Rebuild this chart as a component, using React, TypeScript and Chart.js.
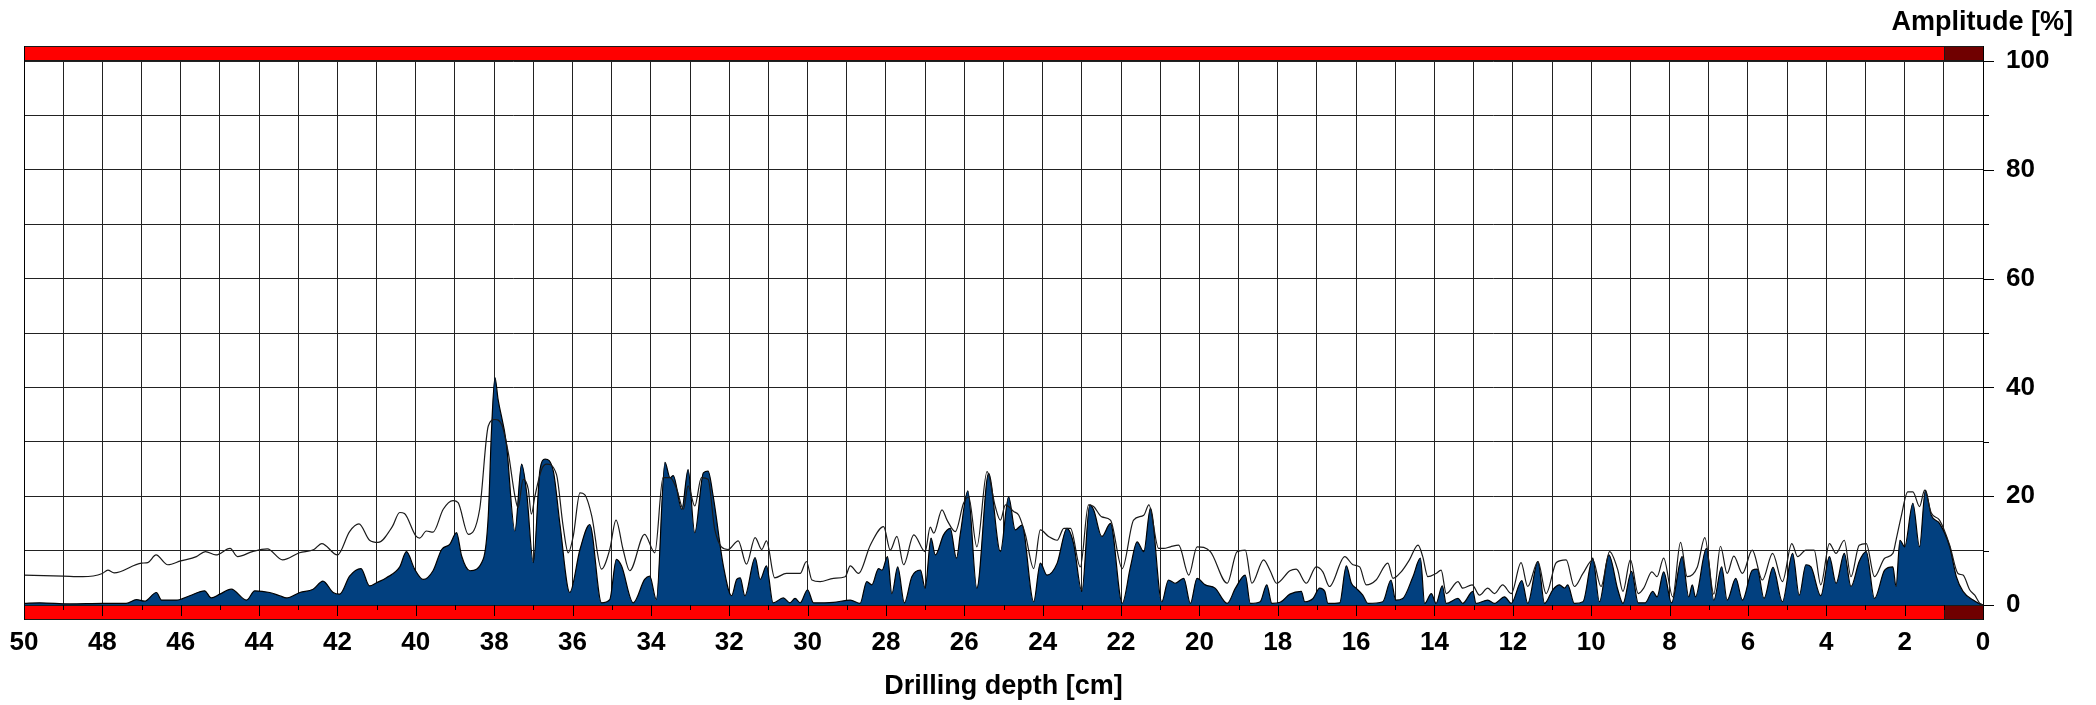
import { useEffect, useRef } from 'react';
import { Chart, registerables } from 'chart.js';

Chart.register(...registerables);

const FONT = '"Liberation Sans", Arial, Helvetica, sans-serif';

// Drilling depth [cm] -> amplitude [%], main (filled) curve
const fillDepths = [
  50.0, 49.6, 48.83, 47.98, 47.39, 47.13, 46.92, 46.62, 46.49, 46.11, 45.77, 45.39, 45.22, 45.0, 44.71, 44.32, 44.11, 43.73, 43.47, 43.3,
  42.96, 42.62, 42.37, 42.11, 41.94, 41.69, 41.4, 41.18, 41.0, 40.75, 40.41, 40.24, 40.03, 39.81, 39.56, 39.34, 39.13, 38.96, 38.83, 38.62,
  38.28, 38.15, 38.07, 37.98, 37.9, 37.69, 37.47, 37.3, 37.17, 37.0, 36.83, 36.7, 36.49, 36.32, 36.07, 35.81, 35.56, 35.26, 35.05, 34.88,
  34.75, 34.45, 34.16, 34.03, 33.86, 33.64, 33.51, 33.43, 33.21, 33.05, 32.88, 32.66, 32.54, 32.41, 32.15, 31.94, 31.81, 31.72, 31.6, 31.34,
  31.21, 31.05, 30.88, 30.62, 30.45, 30.32, 30.19, 30.0, 29.85, 29.34, 28.91, 28.66, 28.49, 28.36, 28.19, 28.1, 27.96, 27.85, 27.7, 27.53,
  27.34, 27.12, 27.0, 26.85, 26.74, 26.53, 26.36, 26.2, 26.1, 25.91, 25.68, 25.38, 25.08, 24.87, 24.7, 24.53, 24.23, 24.06, 23.89, 23.63,
  23.38, 23.21, 23.0, 22.8, 22.7, 22.49, 22.27, 21.97, 21.76, 21.59, 21.42, 21.25, 20.96, 20.79, 20.62, 20.4, 20.23, 20.06, 19.85, 19.6,
  19.29, 19.08, 18.83, 18.7, 18.45, 18.28, 18.15, 17.94, 17.69, 17.4, 17.31, 17.1, 16.93, 16.8, 16.72, 16.42, 16.25, 16.12, 16.0, 15.83,
  15.7, 15.32, 15.11, 14.99, 14.81, 14.55, 14.36, 14.25, 14.08, 13.96, 13.8, 13.7, 13.4, 13.28, 13.02, 12.94, 12.64, 12.47, 12.21, 12.04,
  11.77, 11.62, 11.36, 11.19, 10.98, 10.81, 10.68, 10.6, 10.43, 10.21, 9.96, 9.79, 9.55, 9.32, 9.19, 8.97, 8.8, 8.62, 8.43, 8.32,
  8.15, 7.95, 7.68, 7.51, 7.42, 7.34, 7.06, 6.87, 6.67, 6.53, 6.31, 6.14, 5.89, 5.76, 5.59, 5.36, 5.12, 4.86, 4.69, 4.52,
  4.39, 4.14, 3.92, 3.75, 3.54, 3.37, 3.16, 2.98, 2.77, 2.51, 2.3, 2.22, 2.12, 2.0, 1.79, 1.62, 1.47, 1.32, 1.11, 0.85,
  0.68, 0.51, 0.25, 0.08, 0.0,
];
const fillValues = [
  0.3, 0.4, 0.2, 0.3, 0.3, 1.0, 0.7, 2.3, 0.9, 0.9, 1.7, 2.6, 1.3, 2.0, 2.9, 0.9, 2.6, 2.3, 1.7, 1.3,
  2.3, 2.9, 4.4, 2.3, 2.0, 5.3, 6.7, 3.5, 4.1, 5.0, 7.0, 9.8, 6.6, 4.7, 6.3, 10.2, 11.2, 13.3, 9.0, 6.3,
  8.4, 16.4, 31.7, 41.8, 37.8, 29.8, 13.6, 25.9, 20.6, 7.8, 24.9, 26.8, 24.6, 14.8, 2.3, 10.2, 14.8, 0.4, 1.0, 8.4,
  7.2, 0.4, 4.7, 5.3, 1.0, 26.2, 23.4, 23.8, 17.6, 24.9, 13.3, 24.3, 24.6, 20.0, 7.2, 1.7, 4.7, 5.0, 1.7, 8.7,
  4.7, 7.2, 0.4, 1.3, 0.4, 1.2, 0.4, 2.8, 0.4, 0.5, 0.9, 0.3, 4.3, 3.7, 6.7, 6.4, 8.9, 2.1, 7.0, 0.4,
  5.2, 6.4, 3.1, 12.3, 9.2, 12.9, 14.1, 8.6, 13.2, 21.0, 3.1, 24.2, 9.8, 19.9, 13.8, 14.7, 0.6, 7.7, 5.5, 7.7,
  14.1, 11.3, 2.5, 18.4, 17.5, 12.6, 15.0, 0.3, 7.0, 11.6, 9.8, 17.8, 0.6, 4.6, 4.0, 4.9, 0.3, 4.9, 3.7, 3.1,
  0.3, 3.1, 5.5, 0.3, 0.6, 3.7, 0.3, 0.5, 2.0, 2.5, 0.6, 1.2, 3.1, 2.5, 0.3, 0.4, 7.2, 4.0, 3.1, 1.8,
  0.3, 0.6, 4.6, 0.9, 1.2, 5.2, 8.6, 0.3, 2.1, 0.3, 3.5, 0.3, 1.2, 0.3, 2.5, 0.3, 0.9, 0.3, 1.5, 0.3,
  4.5, 0.3, 8.0, 0.3, 2.8, 3.7, 3.1, 3.7, 0.3, 0.6, 8.6, 0.6, 9.2, 2.8, 0.3, 6.2, 0.4, 0.4, 2.5, 1.5,
  6.1, 0.4, 8.9, 1.5, 3.7, 1.5, 10.4, 0.9, 7.0, 0.9, 4.9, 0.9, 6.4, 6.6, 1.2, 6.9, 0.6, 9.5, 1.8, 7.4,
  7.0, 1.7, 8.9, 4.0, 9.5, 3.4, 8.0, 9.8, 1.2, 6.4, 7.0, 3.4, 11.9, 10.7, 18.7, 10.7, 21.1, 16.5, 15.0, 10.7,
  5.2, 2.5, 0.9, 0.2, 0.0,
];

// Envelope (thin line)
const envDepths = [
  50.0, 49.0, 48.5, 48.0, 47.86, 47.7, 47.0, 46.84, 46.63, 46.33, 46.0, 45.6, 45.37, 45.1, 44.74, 44.55, 44.17, 43.79, 43.4, 42.97,
  42.6, 42.4, 42.0, 41.69, 41.45, 41.18, 40.96, 40.6, 40.41, 40.29, 40.0, 39.9, 39.73, 39.56, 39.3, 39.05, 38.92, 38.66, 38.37, 38.15,
  37.98, 37.81, 37.64, 37.47, 37.39, 37.26, 37.13, 37.05, 36.96, 36.79, 36.66, 36.41, 36.24, 36.11, 35.98, 35.81, 35.69, 35.51, 35.26, 35.05,
  34.89, 34.71, 34.54, 34.16, 33.9, 33.69, 33.51, 33.34, 33.17, 33.05, 32.88, 32.71, 32.54, 32.37, 32.03, 31.77, 31.56, 31.34, 31.17, 31.05,
  30.84, 30.54, 30.19, 30.03, 29.89, 29.68, 29.34, 29.04, 28.91, 28.7, 28.4, 28.06, 27.89, 27.72, 27.55, 27.29, 27.0, 26.87, 26.78, 26.57,
  26.44, 26.23, 26.02, 25.89, 25.68, 25.42, 25.21, 25.08, 24.95, 24.74, 24.61, 24.44, 24.23, 24.06, 23.85, 23.63, 23.46, 23.29, 23.04, 22.83,
  22.7, 22.49, 22.27, 21.97, 21.68, 21.42, 21.29, 21.04, 20.91, 20.74, 20.53, 20.27, 20.06, 19.72, 19.29, 19.04, 18.83, 18.66, 18.36, 18.2,
  18.03, 17.69, 17.53, 17.27, 17.02, 16.85, 16.68, 16.29, 16.08, 15.91, 15.74, 15.49, 15.19, 15.06, 14.85, 14.64, 14.42, 14.3, 14.17, 13.96,
  13.83, 13.7, 13.4, 13.28, 13.04, 12.85, 12.64, 12.47, 12.26, 12.04, 11.79, 11.62, 11.36, 11.15, 10.89, 10.64, 10.43, 10.21, 9.96, 9.75,
  9.53, 9.32, 9.19, 9.0, 8.8, 8.66, 8.45, 8.32, 8.15, 7.92, 7.72, 7.55, 7.29, 7.1, 6.87, 6.7, 6.53, 6.36, 6.14, 5.89,
  5.63, 5.37, 5.12, 4.88, 4.73, 4.52, 4.31, 4.14, 3.92, 3.75, 3.54, 3.37, 3.16, 2.98, 2.77, 2.51, 2.3, 2.22, 2.09, 1.92,
  1.79, 1.62, 1.49, 1.32, 1.11, 0.85, 0.64, 0.51, 0.34, 0.21, 0.08, 0.0,
];
const envValues = [
  5.5, 5.3, 5.2, 5.8, 6.4, 5.9, 7.7, 7.8, 9.2, 7.4, 8.1, 8.9, 9.8, 9.2, 10.4, 8.9, 9.8, 10.3, 8.3, 9.6,
  10.2, 11.3, 9.2, 13.5, 14.9, 11.9, 11.5, 14.4, 17.0, 16.8, 12.7, 12.3, 13.6, 13.4, 17.6, 19.2, 18.8, 13.0, 17.6, 32.9,
  34.1, 33.2, 28.0, 20.0, 17.9, 23.1, 21.3, 16.7, 20.0, 24.9, 25.9, 24.0, 14.5, 9.6, 12.7, 20.6, 20.3, 16.4, 6.6, 10.2,
  15.6, 10.2, 6.3, 13.0, 9.6, 23.4, 23.4, 21.3, 17.6, 21.9, 18.2, 23.4, 23.1, 13.9, 10.2, 11.8, 7.5, 12.4, 10.2, 11.8,
  5.0, 5.8, 5.8, 8.0, 4.6, 4.3, 4.9, 5.2, 7.2, 5.8, 11.0, 14.4, 10.1, 12.6, 7.4, 12.9, 9.8, 14.3, 13.2, 17.5,
  15.6, 13.5, 18.7, 19.9, 10.7, 24.5, 18.1, 15.6, 18.4, 17.2, 16.5, 12.9, 6.7, 13.8, 12.6, 11.9, 14.1, 14.1, 7.0, 18.4,
  18.1, 16.2, 15.6, 6.7, 15.6, 16.5, 18.4, 10.4, 10.4, 10.7, 11.0, 5.5, 10.7, 9.8, 4.0, 9.8, 10.1, 4.0, 8.3, 6.4,
  4.0, 6.3, 6.6, 4.0, 7.0, 6.1, 3.4, 8.9, 7.4, 7.0, 3.7, 4.6, 7.7, 4.9, 6.1, 8.3, 11.0, 8.9, 5.2, 5.8,
  6.4, 2.1, 4.3, 3.1, 3.7, 1.8, 3.1, 2.1, 3.7, 2.1, 7.8, 3.4, 8.0, 2.1, 7.8, 8.3, 3.4, 5.8, 8.3, 3.4,
  9.8, 6.4, 2.5, 8.3, 2.1, 3.1, 6.1, 5.2, 8.6, 1.5, 11.5, 5.2, 7.0, 12.4, 2.0, 10.8, 5.8, 9.0, 5.8, 10.1,
  4.6, 9.5, 4.3, 11.3, 8.9, 10.1, 10.1, 3.7, 11.3, 9.5, 11.9, 5.2, 11.0, 11.3, 5.2, 8.6, 9.5, 11.9, 16.2, 20.8,
  20.8, 18.1, 21.1, 16.9, 15.6, 11.0, 5.8, 5.5, 2.8, 1.8, 0.3, 0.0,
];

const depthLabels = [50, 48, 46, 44, 42, 40, 38, 36, 34, 32, 30, 28, 26, 24, 22, 20, 18, 16, 14, 12, 10, 8, 6, 4, 2, 0];
const amplitudeLabels = [0, 20, 40, 60, 80, 100];
const xTitle = 'Drilling depth [cm]';
const yTitle = 'Amplitude [%]';

const decorPlugin = {
  id: 'decor',
  afterDraw(chart: any) {
    const { ctx, chartArea, scales } = chart;
    const { top, bottom, left, right } = chartArea;
    const x = scales.x;
    const y = scales.y;
    const xa = Math.round(x.getPixelForValue(50));
    const xb = Math.round(x.getPixelForValue(1));
    const xc = Math.round(x.getPixelForValue(0));
    ctx.save();
    const drawBar = (y0: number, h: number) => {
      ctx.fillStyle = '#FF0000';
      ctx.fillRect(xa, y0, xb - xa, h);
      ctx.fillStyle = '#700000';
      ctx.fillRect(xb, y0, xc - xb, h);
      ctx.strokeStyle = '#1a1a1a';
      ctx.lineWidth = 1;
      ctx.strokeRect(xa + 0.5, y0 + 0.5, xb - xa, h - 1);
      ctx.strokeRect(xb + 0.5, y0 + 0.5, xc - xb, h - 1);
    };
    drawBar(top - 15, 15);
    drawBar(bottom, 15);
    ctx.strokeStyle = '#000';
    ctx.lineWidth = 1;
    ctx.beginPath();
    for (let d = 0; d <= 50; d++) {
      const px = Math.round(x.getPixelForValue(d)) + 0.5;
      ctx.moveTo(px, bottom);
      ctx.lineTo(px, bottom + (d % 2 === 0 ? 11 : 5));
    }
    for (let v = 0; v <= 100; v += 10) {
      const py = Math.round(y.getPixelForValue(v)) + 0.5;
      ctx.moveTo(right, py);
      ctx.lineTo(right + (v % 20 === 0 ? 11 : 6), py);
    }
    ctx.stroke();
    ctx.beginPath();
    ctx.moveTo(right + 0.5, top - 15);
    ctx.lineTo(right + 0.5, bottom + 15);
    ctx.moveTo(left + 0.5, top - 15);
    ctx.lineTo(left + 0.5, bottom + 15);
    ctx.stroke();
    ctx.fillStyle = '#000';
    ctx.font = `bold 27px ${FONT}`;
    ctx.textBaseline = 'alphabetic';
    ctx.textAlign = 'right';
    ctx.fillText(yTitle, 2073, 30);
    ctx.textAlign = 'center';
    ctx.fillText(xTitle, (left + right) / 2, 694);
    ctx.restore();
  },
};

export default function App() {
  const ref = useRef<HTMLCanvasElement | null>(null);
  useEffect(() => {
    if (!ref.current) return;
    const envData = envDepths.map((d, i) => ({ x: d, y: envValues[i] }));
    const fillData = fillDepths.map((d, i) => ({ x: d, y: fillValues[i] }));
    const chart = new Chart(ref.current, {
      type: 'line',
      data: {
        datasets: [
          {
            label: 'envelope',
            data: envData,
            borderColor: '#1a1a1a',
            borderWidth: 1.2,
            fill: false,
            pointRadius: 0,
            cubicInterpolationMode: 'monotone',
          },
          {
            label: 'amplitude',
            data: fillData,
            borderColor: '#000000',
            borderWidth: 1.2,
            backgroundColor: '#02407F',
            fill: 'origin',
            pointRadius: 0,
            cubicInterpolationMode: 'monotone',
          },
        ],
      },
      options: {
        animation: false,
        responsive: true,
        maintainAspectRatio: false,
        devicePixelRatio: 1,
        layout: { padding: { left: 24, top: 61, right: 0, bottom: 0 } },
        plugins: { legend: { display: false }, tooltip: { enabled: false } },
        scales: {
          x: {
            type: 'linear',
            min: 0,
            max: 50,
            reverse: true,
            afterFit: (s: any) => { s.height = 100; s.paddingLeft = 0; s.paddingRight = 0; },
            grid: { color: '#222', lineWidth: 1, drawTicks: false },
            border: { display: true, color: '#000' },
            ticks: {
              stepSize: 1,
              autoSkip: false,
              maxRotation: 0,
              padding: 22,
              color: '#000',
              font: { family: FONT, size: 26, weight: 'bold' },
              callback: (v: any) => (depthLabels.includes(Number(v)) ? String(v) : ''),
            },
          },
          y: {
            type: 'linear',
            position: 'right',
            min: 0,
            max: 100,
            afterFit: (s: any) => { s.width = 113; s.paddingTop = 0; s.paddingBottom = 0; },
            grid: { color: '#222', lineWidth: 1, drawTicks: false },
            border: { display: true, color: '#000' },
            ticks: {
              stepSize: 10,
              padding: 23,
              color: '#000',
              font: { family: FONT, size: 26, weight: 'bold' },
              callback: (v: any) => (amplitudeLabels.includes(Number(v)) ? String(v) : ''),
            },
          },
        },
      },
      plugins: [decorPlugin],
    } as any);
    return () => chart.destroy();
  }, []);
  return (
    <div style={{ position: 'fixed', left: 0, top: 0, width: 2096, height: 705, background: '#fff' }}>
      <canvas ref={ref} />
    </div>
  );
}
